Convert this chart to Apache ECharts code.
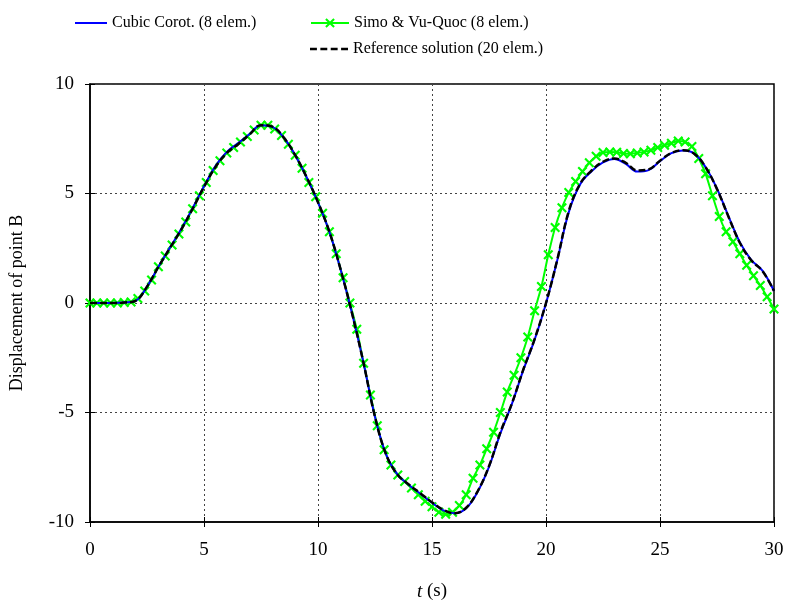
<!DOCTYPE html>
<html><head><meta charset="utf-8">
<script src="https://cdn.jsdelivr.net/npm/echarts@6/dist/echarts.min.js"></script>
<style>html,body{margin:0;padding:0;background:#fff}#c{width:787px;height:606px}</style>
</head><body><div id="c"></div>
<script>
// Reference solution (20 elem.) and Cubic Corot. sampled every 0.5 s
const tLine = [0,0.5,1,1.5,2,2.5,3,3.5,4,4.5,5,5.5,6,6.5,7,7.5,8,8.5,9,9.5,10,10.5,11,11.5,12,12.5,13,13.5,14,14.5,15,15.5,16,16.5,17,17.5,18,18.5,19,19.5,20,20.5,21,21.5,22,22.5,23,23.5,24,24.5,25,25.5,26,26.5,27,27.5,28,28.5,29,29.5,30];
const refY = [0,0,0,0.02,0.1,0.75,1.65,2.5,3.35,4.3,5.3,6.2,6.85,7.25,7.7,8.12,8.05,7.55,6.75,5.75,4.6,3.25,1.5,-0.5,-2.75,-5.2,-6.95,-7.85,-8.3,-8.7,-9.1,-9.45,-9.6,-9.35,-8.6,-7.45,-5.9,-4.6,-3.05,-1.65,0.0,2.0,4.2,5.45,6.05,6.45,6.6,6.4,6.05,6.1,6.5,6.85,6.97,6.82,6.2,5.2,3.95,2.75,1.95,1.45,0.55];
const cubicY = [0,0,0,0.02,0.1,0.75,1.65,2.52,3.38,4.33,5.33,6.25,6.9,7.3,7.72,8.12,8.04,7.55,6.75,5.75,4.6,3.25,1.5,-0.5,-2.75,-5.2,-6.95,-7.85,-8.32,-8.72,-9.12,-9.47,-9.6,-9.37,-8.62,-7.48,-5.95,-4.62,-3.08,-1.68,-0.02,1.98,4.15,5.42,6.02,6.42,6.58,6.35,6.0,6.07,6.48,6.84,6.96,6.82,6.2,5.22,3.97,2.78,1.97,1.47,0.55];
// Simo & Vu-Quoc (8 elem.) sampled every 0.3 s
const tSimo = [0,0.3,0.6,0.9,1.2,1.5,1.8,2.1,2.4,2.7,3,3.3,3.6,3.9,4.2,4.5,4.8,5.1,5.4,5.7,6,6.3,6.6,6.9,7.2,7.5,7.8,8.1,8.4,8.7,9,9.3,9.6,9.9,10.2,10.5,10.8,11.1,11.4,11.7,12,12.3,12.6,12.9,13.2,13.5,13.8,14.1,14.4,14.7,15,15.3,15.6,15.9,16.2,16.5,16.8,17.1,17.4,17.7,18,18.3,18.6,18.9,19.2,19.5,19.8,20.1,20.4,20.7,21,21.3,21.6,21.9,22.2,22.5,22.8,23.1,23.4,23.7,24,24.3,24.6,24.9,25.2,25.5,25.8,26.1,26.4,26.7,27,27.3,27.6,27.9,28.2,28.5,28.8,29.1,29.4,29.7,30];
const simoY = [0,0,0,0,0,0.02,0.05,0.2,0.55,1.05,1.65,2.15,2.65,3.15,3.7,4.3,4.9,5.5,6.05,6.5,6.85,7.1,7.35,7.6,7.9,8.12,8.12,7.95,7.65,7.25,6.75,6.15,5.5,4.85,4.1,3.25,2.25,1.15,0.0,-1.2,-2.75,-4.2,-5.6,-6.7,-7.4,-7.85,-8.15,-8.45,-8.75,-9.05,-9.3,-9.55,-9.65,-9.55,-9.25,-8.75,-8.0,-7.4,-6.65,-5.9,-5.0,-4.06,-3.3,-2.5,-1.55,-0.35,0.75,2.2,3.45,4.35,5.05,5.55,6.0,6.4,6.7,6.87,6.9,6.88,6.83,6.82,6.85,6.9,6.98,7.1,7.2,7.3,7.4,7.35,7.15,6.6,5.9,4.9,3.95,3.25,2.8,2.25,1.72,1.25,0.8,0.28,-0.27];
const xTicks = [0,5,10,15,20,25,30];
const yTicks = [-10,-5,0,5,10];

const pair = (ts, ys) => ts.map((t, i) => [t, ys[i]]);
const FONT = 'Liberation Serif';
const xMark = 'path://M0,1.5L1.5,0L5,3.5L8.5,0L10,1.5L6.5,5L10,8.5L8.5,10L5,6.5L1.5,10L0,8.5L3.5,5Z';
const solidIcon = 'path://M0,0H40V2.5H0Z';
const dashIcon = 'path://M0,0H7V2.5H0Z M10.5,0H17.5V2.5H10.5Z M21,0H28V2.5H21Z M31.5,0H38.5V2.5H31.5Z';

const chart = echarts.init(document.getElementById('c'), null, {renderer: 'canvas'});
const gridL = 89, gridR = 13, gridT = 84, gridB = 82;
const legText = {fontFamily: FONT, fontSize: 16, color: '#000'};
chart.setOption({
  animation: false,
  backgroundColor: '#fff',
  textStyle: {fontFamily: FONT},
  legend: [
    {data: [{name: 'Cubic Corot. (8 elem.)', icon: solidIcon}], left: 70, top: 10, itemWidth: 32, itemHeight: 2.5, itemGap: 10, textStyle: legText},
    {data: ['Simo & Vu-Quoc (8 elem.)'], left: 305, top: 10, itemWidth: 38, itemHeight: 12, itemGap: 10, textStyle: legText},
    {data: [{name: 'Reference solution (20 elem.)', icon: dashIcon}], left: 305, top: 36, itemWidth: 38, itemHeight: 2.5, itemGap: 10, textStyle: legText}
  ],
  grid: {left: gridL, right: gridR, top: gridT, bottom: gridB, show: true, borderColor: '#000', borderWidth: 1.5, backgroundColor: 'transparent'},
  xAxis: [{
    type: 'value', min: 0, max: 30, interval: 5,
    name: '{i|t} (s)', nameLocation: 'middle', nameGap: 60,
    nameTextStyle: {fontFamily: FONT, fontSize: 19, color: '#000', rich: {i: {fontFamily: FONT, fontSize: 19, fontStyle: 'italic', color: '#000'}}},
    axisLine: {show: true, onZero: false, lineStyle: {color: '#000', width: 1.5}},
    axisTick: {show: true, inside: false, length: 5, lineStyle: {color: '#000'}},
    axisLabel: {fontFamily: FONT, fontSize: 19, color: '#000', margin: 19},
    splitLine: {show: true, lineStyle: {color: '#444', type: [2, 3], width: 1}}
  }, {
    type: 'value', min: 0, max: 30, interval: 5, position: 'bottom',
    axisLine: {show: false, onZero: false}, axisLabel: {show: false}, splitLine: {show: false},
    axisTick: {show: true, inside: true, length: 5, lineStyle: {color: '#000'}}
  }],
  yAxis: [{
    type: 'value', min: -10, max: 10, interval: 5,
    name: 'Displacement of point B', nameLocation: 'middle', nameGap: 64,
    nameTextStyle: {fontFamily: FONT, fontSize: 18, color: '#000'},
    axisLine: {show: true, onZero: false, lineStyle: {color: '#000', width: 1.5}},
    axisTick: {show: true, inside: false, length: 5, lineStyle: {color: '#000'}},
    axisLabel: {fontFamily: FONT, fontSize: 19, color: '#000', margin: 16},
    splitLine: {show: true, lineStyle: {color: '#444', type: [2, 3], width: 1}}
  }, {
    type: 'value', min: -10, max: 10, interval: 5, position: 'left',
    axisLine: {show: false, onZero: false}, axisLabel: {show: false}, splitLine: {show: false},
    axisTick: {show: true, inside: true, length: 5, lineStyle: {color: '#000'}}
  }],
  series: [
    {name: 'Simo & Vu-Quoc (8 elem.)', type: 'line', data: pair(tSimo, simoY), smooth: 0.3,
     symbol: xMark, symbolSize: 10, showSymbol: true,
     lineStyle: {color: '#00ff00', width: 2}, itemStyle: {color: '#00ff00'}, z: 2},
    {name: 'Cubic Corot. (8 elem.)', type: 'line', data: pair(tLine, cubicY), smooth: 0.4,
     symbol: 'none', lineStyle: {color: '#0000ff', width: 2}, itemStyle: {color: '#0000ff'}, z: 3},
    {name: 'Reference solution (20 elem.)', type: 'line', data: pair(tLine, refY), smooth: 0.4,
     symbol: 'none', lineStyle: {color: '#000', width: 2.5, type: [7, 3]}, itemStyle: {color: '#000'}, z: 4}
  ]
});
</script></body></html>
